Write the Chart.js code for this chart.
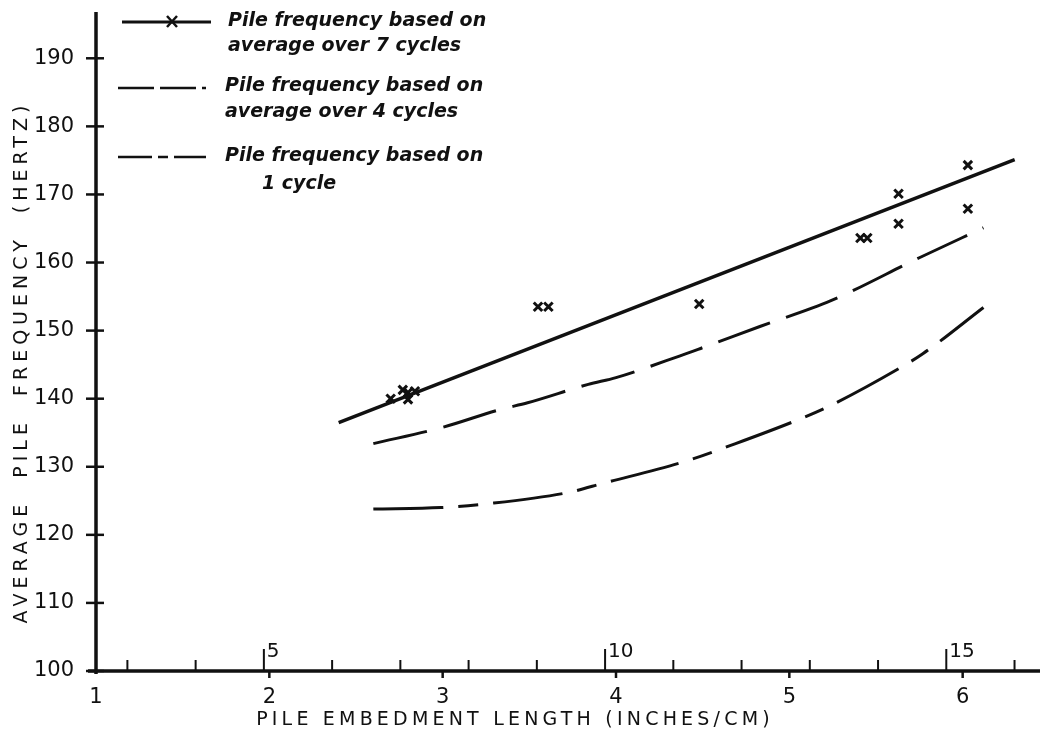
<!DOCTYPE html>
<html lang="en">
<head>
  <meta charset="UTF-8">
  <title>Pile frequency vs embedment length</title>
  <script src="https://cdn.jsdelivr.net/npm/chart.js"></script>
  <style>
    html, body { margin: 0; padding: 0; background: #fff; }
    .chart-container { position: relative; width: 1041px; height: 739px; }
  </style>
</head>
<body>
  <div class="chart-container">
    <canvas id="pileChart"></canvas>
  </div>

  <script>
    // axis ticks
    const inchTicks = [1, 2, 3, 4, 5, 6];
    const cmTicks = [3, 4, 5, 6, 7, 8, 9, 10, 11, 12, 13, 14, 15, 16];
    const cmLabels = [5, 10, 15];
    const freqTicks = [100, 110, 120, 130, 140, 150, 160, 170, 180, 190];

    // fitted line, average over 7 cycles
    const fit7X = [2.40, 6.30];
    const fit7Y = [136.5, 175.1];

    // measured points (x)
    const pts7X = [2.70, 2.77, 2.80, 2.80, 2.84, 3.55, 3.61, 4.48, 5.41, 5.45, 5.63, 5.63, 6.03, 6.03];
    const pts7Y = [140.0, 141.3, 140.9, 139.9, 141.1, 153.5, 153.5, 153.9, 163.6, 163.6, 170.1, 165.7, 174.3, 167.9];

    // average over 4 cycles
    const avg4X = [2.60, 3.00, 3.33, 3.49, 3.84, 4.00, 4.37, 4.50, 4.83, 5.24, 5.75, 6.12];
    const avg4Y = [133.4, 135.8, 138.4, 139.4, 142.1, 143.1, 146.3, 147.5, 150.6, 154.4, 160.7, 165.1];

    // 1 cycle
    const one1X = [2.60, 2.99, 3.27, 3.72, 3.93, 4.40, 4.69, 5.06, 5.23, 5.63, 5.77, 6.12];
    const one1Y = [123.8, 124.0, 124.6, 126.2, 127.6, 130.8, 133.4, 137.0, 138.9, 144.4, 146.6, 153.4];

    const toXY = (xs, ys) => xs.map((x, i) => ({ x: x, y: ys[i] }));

    const INK = '#111';
    const FONT = '"DejaVu Sans", sans-serif';
    const dash4 = [55, 17];
    const dash1 = [70, 15, 20, 15];

    // ticks, cm scale, axis titles and legend
    const decorations = {
      id: 'decorations',
      afterDraw(chart) {
        const ctx = chart.ctx;
        const x = chart.scales.x, cm = chart.scales.xcm, y = chart.scales.y;
        const left = chart.chartArea.left, bottom = chart.chartArea.bottom;
        ctx.save();
        ctx.strokeStyle = INK;
        ctx.fillStyle = INK;
        ctx.lineCap = 'butt';

        // axis lines
        ctx.lineWidth = 3.5;
        ctx.beginPath();
        ctx.moveTo(left - 8, bottom); ctx.lineTo(chart.width - 1, bottom);
        ctx.moveTo(left, chart.chartArea.top); ctx.lineTo(left, bottom + 3);
        ctx.stroke();

        // y ticks crossing the axis
        ctx.lineWidth = 2.5;
        freqTicks.forEach(v => {
          const py = y.getPixelForValue(v);
          ctx.beginPath();
          ctx.moveTo(left - 10, py); ctx.lineTo(left + 8, py);
          ctx.stroke();
        });

        // inch ticks below the axis
        inchTicks.forEach(v => {
          if (v === 1) return;
          const px = x.getPixelForValue(v);
          ctx.beginPath();
          ctx.moveTo(px, bottom); ctx.lineTo(px, bottom + 7);
          ctx.stroke();
        });

        // cm ticks above the axis
        ctx.lineWidth = 2;
        ctx.font = '20px ' + FONT;
        ctx.textAlign = 'left';
        ctx.textBaseline = 'middle';
        cmTicks.forEach(v => {
          const px = cm.getPixelForValue(v);
          const big = cmLabels.includes(v);
          ctx.beginPath();
          ctx.moveTo(px, bottom); ctx.lineTo(px, bottom - (big ? 22 : 11));
          ctx.stroke();
          if (big) ctx.fillText(String(v), px + 3, bottom - 19);
        });

        // axis titles
        ctx.font = '19px ' + FONT;
        ctx.letterSpacing = '4.2px';
        ctx.textAlign = 'center';
        ctx.fillText('PILE EMBEDMENT LENGTH (INCHES/CM)', 515, 720);
        ctx.save();
        ctx.translate(22, 362);
        ctx.rotate(-Math.PI / 2);
        ctx.letterSpacing = '5px';
        ctx.fillText('AVERAGE  PILE  FREQUENCY  (HERTZ)', 0, 0);
        ctx.restore();
        ctx.letterSpacing = '0px';

        // legend
        ctx.lineWidth = 3;
        ctx.beginPath();
        ctx.moveTo(122, 22); ctx.lineTo(211, 22);
        ctx.stroke();
        ctx.lineWidth = 2.5;
        ctx.beginPath();
        ctx.moveTo(167, 16); ctx.lineTo(177, 27);
        ctx.moveTo(177, 16); ctx.lineTo(167, 27);
        ctx.stroke();

        ctx.lineWidth = 2.5;
        ctx.setLineDash([36, 6]);
        ctx.beginPath();
        ctx.moveTo(118, 88); ctx.lineTo(206, 88);
        ctx.stroke();
        ctx.setLineDash([34, 6, 10, 6]);
        ctx.beginPath();
        ctx.moveTo(118, 157); ctx.lineTo(206, 157);
        ctx.stroke();
        ctx.setLineDash([]);

        ctx.font = 'oblique bold 19px ' + FONT;
        ctx.textAlign = 'left';
        ctx.fillText('Pile frequency based on', 228, 21);
        ctx.fillText('average over 7 cycles', 228, 46);
        ctx.fillText('Pile frequency based on', 225, 86);
        ctx.fillText('average over 4 cycles', 225, 112);
        ctx.fillText('Pile frequency based on', 225, 156);
        ctx.fillText('1 cycle', 262, 184);
        ctx.restore();
      }
    };

    const ctx = document.getElementById('pileChart').getContext('2d');
    new Chart(ctx, {
      type: 'scatter',
      data: {
        datasets: [
          {
            label: 'Pile frequency based on average over 7 cycles',
            data: toXY(fit7X, fit7Y),
            showLine: true,
            borderColor: INK,
            borderWidth: 3.5,
            pointRadius: 0
          },
          {
            label: 'Measured',
            data: toXY(pts7X, pts7Y),
            showLine: false,
            pointStyle: 'crossRot',
            pointRadius: 6,
            borderColor: INK,
            borderWidth: 3
          },
          {
            label: 'Pile frequency based on average over 4 cycles',
            data: toXY(avg4X, avg4Y),
            showLine: true,
            cubicInterpolationMode: 'monotone',
            borderColor: INK,
            borderWidth: 3,
            borderDash: dash4,
            pointRadius: 0
          },
          {
            label: 'Pile frequency based on 1 cycle',
            data: toXY(one1X, one1Y),
            showLine: true,
            cubicInterpolationMode: 'monotone',
            borderColor: INK,
            borderWidth: 3,
            borderDash: dash1,
            pointRadius: 0
          }
        ]
      },
      options: {
        responsive: true,
        maintainAspectRatio: false,
        animation: false,
        layout: { padding: { top: 12, right: 1, left: 0, bottom: 0 } },
        plugins: {
          legend: { display: false },
          tooltip: { enabled: false }
        },
        scales: {
          x: {
            type: 'linear',
            min: 1,
            max: 6.40,
            afterBuildTicks: s => { s.ticks = inchTicks.map(v => ({ value: v })); },
            afterFit: s => { s.height = 68; },
            grid: { display: false },
            border: { display: false },
            ticks: {
              color: INK,
              padding: 6,
              font: { family: FONT, size: 21 }
            }
          },
          xcm: {
            type: 'linear',
            display: false,
            min: 1 * 2.54,
            max: 6.40 * 2.54
          },
          y: {
            type: 'linear',
            min: 100,
            max: 196.8,
            afterBuildTicks: s => { s.ticks = freqTicks.map(v => ({ value: v })); },
            afterFit: s => { s.width = 96; s.paddingTop = 0; s.paddingBottom = 0; },
            grid: { display: false },
            border: { display: false },
            ticks: {
              color: INK,
              padding: 14,
              font: { family: FONT, size: 21 }
            }
          }
        }
      },
      plugins: [decorations]
    });
  </script>
</body>
</html>
